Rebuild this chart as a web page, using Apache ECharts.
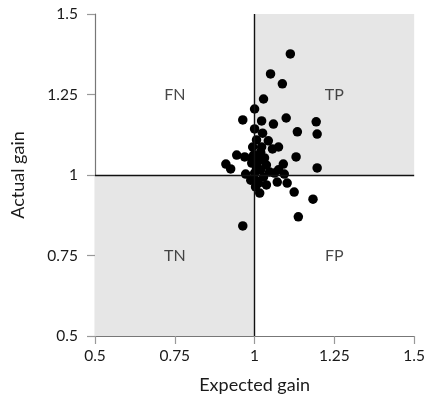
<!DOCTYPE html>
<html><head><meta charset="utf-8">
<script src="https://cdn.jsdelivr.net/npm/echarts@6/dist/echarts.min.js"></script>
<style>html,body{margin:0;padding:0;background:#fff}#c{width:428px;height:400px}</style>
</head><body><div id="c"></div>
<script>
var expectedGain = [1.112,1.050,1.087,1.028,1.000,0.963,1.022,1.059,1.099,1.193,1.196,1.134,1.000,1.025,1.006,1.043,1.075,0.994,1.056,1.019,0.997,0.944,0.969,1.130,1.019,0.991,0.910,0.925,1.090,1.037,1.196,1.047,1.075,0.972,1.000,1.093,1.062,1.003,1.028,1.071,1.102,1.037,1.003,1.016,1.124,1.183,1.137,0.963,1.006,1.019,0.991,1.009,1.031,0.988,1.012,1.022];
var actualGain   = [1.376,1.314,1.283,1.236,1.205,1.171,1.168,1.158,1.177,1.165,1.127,1.134,1.143,1.130,1.109,1.106,1.087,1.087,1.081,1.071,1.062,1.062,1.056,1.056,1.047,1.037,1.034,1.019,1.034,1.031,1.022,1.009,1.016,1.003,1.006,1.003,1.006,0.984,0.994,0.978,0.975,0.969,0.963,0.944,0.947,0.925,0.870,0.842,1.022,1.016,1.053,1.040,1.053,0.984,0.975,1.087];
var quadrantNames = ['FN','TP','TN','FP'];
var quadrantX = [0.75,1.25,0.75,1.25];
var quadrantY = [1.25,1.25,0.75,0.75];
var tickValues = [0.5,0.75,1,1.25,1.5];
var threshold = 1;

var points = expectedGain.map(function(x,i){return [x, actualGain[i]];});
var labels = quadrantNames.map(function(n,i){return [quadrantX[i], quadrantY[i], n];});
var FONT = 'Lato';
function axis(name, gap, isY){
  return {
    type:'value', min:tickValues[0], max:tickValues[tickValues.length-1], interval:0.25,
    name:name, nameLocation:'middle', nameGap:gap,
    nameTextStyle:{fontFamily:FONT,fontSize:18,color:'#1a1a1a'},
    axisLine:{show:true,onZero:false,lineStyle:{color:'#777',width:1.2}},
    axisTick:{show:true,length:8,lineStyle:{color:'#999',width:1.2}},
    axisLabel:{fontFamily:FONT,fontSize:15.5,color:'#1a1a1a',margin:isY?17:12,
      formatter:function(v){return String(+v.toFixed(2));}},
    splitLine:{show:false}
  };
}
var chart = echarts.init(document.getElementById('c'), null, {renderer:'canvas'});
chart.setOption({
  animation:false,
  grid:{left:95,right:11,top:14,bottom:64,containLabel:false},
  xAxis: axis('Expected gain', 40, false),
  yAxis: axis('Actual gain', 68, true),
  series:[
    {type:'scatter', data:[], silent:true,
     markArea:{silent:true, itemStyle:{color:'#e6e6e6'},
       data:[[{coord:[threshold,threshold]},{coord:[1.5,1.5]}],
             [{coord:[0.5,0.5]},{coord:[threshold,threshold]}]]},
     markLine:{silent:true, symbol:'none', label:{show:false},
       lineStyle:{color:'#111',width:1.4,type:'solid'},
       data:[{xAxis:threshold},{yAxis:threshold}]},
     z:1},
    {type:'scatter', data:labels, symbolSize:0, z:3,
     label:{show:true, position:'inside', fontFamily:FONT, fontSize:16, color:'#1a1a1a',
       formatter:function(p){return p.data[2];}}},
    {type:'scatter', data:points, symbolSize:9.5, z:4,
     itemStyle:{color:'#000', opacity:1}}
  ]
});
</script></body></html>
